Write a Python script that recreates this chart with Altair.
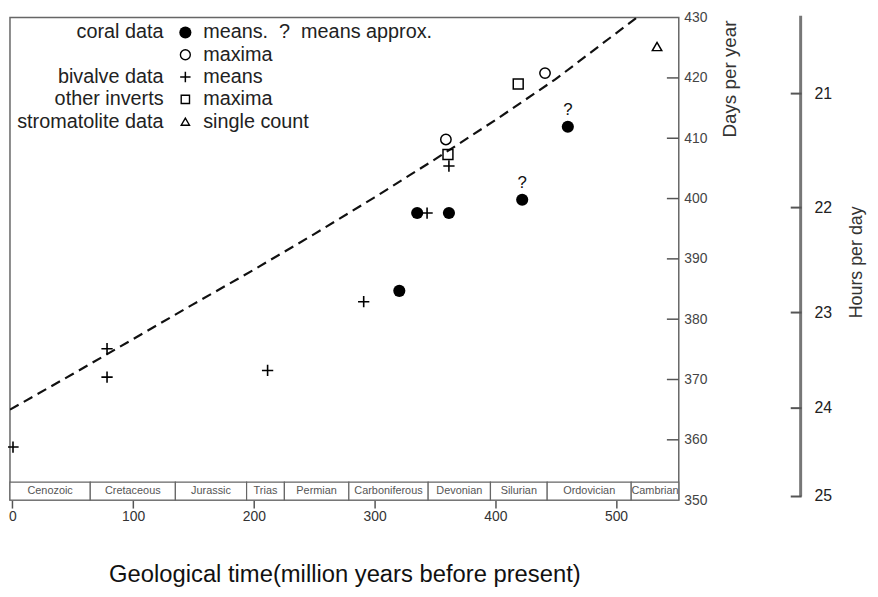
import altair as alt
import pandas as pd

FONT = "Liberation Sans"

# ---------------- data ----------------
coral_means_ma = [320.5, 335.3, 361.6, 422.3, 460.1]
coral_means_days = [384.7, 397.6, 397.6, 399.8, 411.9]
coral_means_approx = [False, False, False, True, True]

coral_max_ma = [359.1, 441.2]
coral_max_days = [409.8, 420.8]

bivalve_ma = [0.5, 78.4, 78.4, 211.4, 291.0, 343.5, 361.6]
bivalve_days = [358.8, 375.1, 370.4, 371.5, 382.9, 397.6, 405.4]

inverts_ma = [360.8, 419.0]
inverts_days = [407.3, 419.0]

strom_ma = [534.0]
strom_days = [425.2]

trend_ma = [-2, 50, 100, 150, 200, 250, 300, 350, 400, 450, 500, 525]
trend_days = [365.0, 370.9, 376.7, 382.5, 388.2, 394.1, 400.2, 406.5, 413.0, 419.8, 427.4, 431.2]

periods = ["Cenozoic", "Cretaceous", "Jurassic", "Trias", "Permian",
           "Carboniferous", "Devonian", "Silurian", "Ordovician", "Cambrian"]
period_start = [-2, 64.5, 135, 194, 225.3, 278.7, 344.4, 396, 443, 512.6]
period_end = [64.5, 135, 194, 225.3, 278.7, 344.4, 396, 443, 512.6, 552]

x_ticks = [0, 100, 200, 300, 400, 500]
y_ticks = [350, 360, 370, 380, 390, 400, 410, 420, 430]

hours_labels = [21, 22, 23, 24, 25]
hours_days = [417.4, 398.5, 381.1, 365.25, 350.6]

legend_left = ["coral data", "", "bivalve data", "other inverts", "stromatolite data"]
legend_right = ["means.\u00a0\u00a0?\u00a0\u00a0means approx.", "maxima", "means", "maxima", "single count"]

# ---------------- scales ----------------
XS = alt.Scale(domain=[-2, 552], nice=False, zero=False)
YS = alt.Scale(domain=[350, 430], nice=False, zero=False)

CROSS = "M-1,0L1,0M0,-1L0,1"

period_df = pd.DataFrame({"period": periods, "start": period_start, "end": period_end})

bar = alt.Chart(period_df).transform_calculate(
    lo="350", hi="353"
).mark_rect(fill="white", stroke="#666", strokeWidth=1.2).encode(
    x=alt.X("start:Q", scale=XS, axis=alt.Axis(
        values=x_ticks, tickSize=8, tickColor="#555", tickWidth=1.5,
        labelFont=FONT, labelFontSize=14, labelColor="#333", labelPadding=2,
        domain=False, grid=False,
        title="Geological time(million years before present)",
        titleFont=FONT, titleFontSize=24, titleFontWeight="normal", titleColor="#111",
        titleBaseline="alphabetic", titleY=82)),
    x2="end:Q",
    y=alt.Y("lo:Q", scale=YS, axis=alt.Axis(
        orient="right", values=y_ticks, ticks=False, labelPadding=5,
        labelFont=FONT, labelFontSize=14, labelColor="#444",
        domain=False, grid=False, title=None)),
    y2="hi:Q",
)

bar_text = alt.Chart(period_df).transform_calculate(
    mid="(datum.start + datum.end) / 2", ymid="351.5"
).mark_text(font=FONT, fontSize=11, color="#555", baseline="middle").encode(
    x=alt.X("mid:Q", scale=XS), y=alt.Y("ymid:Q", scale=YS), text="period:N")

trend = alt.Chart(pd.DataFrame({"ma": trend_ma, "days": trend_days})).mark_line(
    strokeDash=[10, 6], strokeWidth=2.2, color="#111", clip=True
).encode(x=alt.X("ma:Q", scale=XS), y=alt.Y("days:Q", scale=YS))

cm_df = pd.DataFrame({"ma": coral_means_ma, "days": coral_means_days, "approx": coral_means_approx})
coral_means = alt.Chart(cm_df).mark_point(shape="circle", filled=True, size=150, color="black", opacity=1).encode(
    x=alt.X("ma:Q", scale=XS), y=alt.Y("days:Q", scale=YS))
approx_q = alt.Chart(cm_df).transform_filter("datum.approx").mark_text(
    text="?", font=FONT, fontSize=17, color="#111", dy=-17, baseline="middle").encode(
    x=alt.X("ma:Q", scale=XS), y=alt.Y("days:Q", scale=YS))

coral_max = alt.Chart(pd.DataFrame({"ma": coral_max_ma, "days": coral_max_days})).mark_point(
    shape="circle", filled=False, size=110, strokeWidth=1.5, color="black", opacity=1).encode(
    x=alt.X("ma:Q", scale=XS), y=alt.Y("days:Q", scale=YS))

bivalve = alt.Chart(pd.DataFrame({"ma": bivalve_ma, "days": bivalve_days})).mark_point(
    shape=CROSS, filled=False, size=130, strokeWidth=1.6, color="black", opacity=1).encode(
    x=alt.X("ma:Q", scale=XS), y=alt.Y("days:Q", scale=YS))

inverts = alt.Chart(pd.DataFrame({"ma": inverts_ma, "days": inverts_days})).mark_point(
    shape="square", filled=False, size=100, strokeWidth=1.5, color="black", opacity=1).encode(
    x=alt.X("ma:Q", scale=XS), y=alt.Y("days:Q", scale=YS))

strom = alt.Chart(pd.DataFrame({"ma": strom_ma, "days": strom_days})).mark_point(
    shape="triangle-up", filled=False, size=90, strokeWidth=1.5, color="black", opacity=1).encode(
    x=alt.X("ma:Q", scale=XS), y=alt.Y("days:Q", scale=YS))

# inward ticks of the days axis
inner_ticks = alt.Chart(pd.DataFrame({"d": y_ticks[1:-1]})).mark_rule(color="#555", strokeWidth=1.5).encode(
    y=alt.Y("d:Q", scale=YS), x=alt.value(663), x2=alt.value(675))

# hours-per-day axis
hours_df = pd.DataFrame({"h": hours_labels, "d": hours_days})
hours_line = alt.Chart(pd.DataFrame({"top": [430.3], "bottom": [hours_days[-1]]})).mark_rule(
    color="#777", strokeWidth=3).encode(
    y=alt.Y("top:Q", scale=YS), y2="bottom:Q", x=alt.value(798))
hours_ticks = alt.Chart(hours_df).mark_rule(color="#555", strokeWidth=2).encode(
    y=alt.Y("d:Q", scale=YS), x=alt.value(788), x2=alt.value(799))
hours_text = alt.Chart(hours_df).mark_text(font=FONT, fontSize=16, color="#222", align="left", baseline="middle").encode(
    y=alt.Y("d:Q", scale=YS), x=alt.value(812), text="h:Q")

one = pd.DataFrame({"k": [0]})
days_title = alt.Chart(one).mark_text(text="Days per year", font=FONT, fontSize=19, color="#333",
                                      angle=270, align="center", baseline="middle").encode(
    x=alt.value(727), y=alt.value(62))
hours_title = alt.Chart(one).mark_text(text="Hours per day", font=FONT, fontSize=18, color="#333",
                                       angle=270, align="center", baseline="middle").encode(
    x=alt.value(855), y=alt.value(247))

# manual legend
legend_layers = []
row_y0, row_dy = 15, 22.5
sym_specs = [
    dict(shape="circle", filled=True, size=150),
    dict(shape="circle", filled=False, size=100, strokeWidth=1.4),
    dict(shape=CROSS, filled=False, size=110, strokeWidth=1.5),
    dict(shape="square", filled=False, size=70, strokeWidth=1.4),
    dict(shape="triangle-up", filled=False, size=70, strokeWidth=1.4),
]
for i in range(5):
    yy = row_y0 + i * row_dy
    if legend_left[i]:
        legend_layers.append(alt.Chart(one).mark_text(
            text=legend_left[i], font=FONT, fontSize=20, color="#222", align="right", baseline="middle"
        ).encode(x=alt.value(155), y=alt.value(yy)))
    legend_layers.append(alt.Chart(one).mark_point(color="black", opacity=1, **sym_specs[i]).encode(
        x=alt.value(177), y=alt.value(yy)))
    legend_layers.append(alt.Chart(one).mark_text(
        text=legend_right[i], font=FONT, fontSize=20, color="#222", align="left", baseline="middle"
    ).encode(x=alt.value(195), y=alt.value(yy)))

chart = alt.layer(
    bar, bar_text, trend, bivalve, coral_means, approx_q, coral_max, inverts, strom,
    inner_ticks, hours_line, hours_ticks, hours_text, days_title, hours_title,
    *legend_layers
).properties(
    width=675, height=487,
    padding={"left": 2, "top": 7, "right": 193, "bottom": 87},
    autosize=alt.AutoSizeParams(type="none"),
    background="white",
).configure_view(stroke="#666", strokeWidth=1.5)

chart.save("out.html", embed_options={"renderer": "svg", "actions": False})
